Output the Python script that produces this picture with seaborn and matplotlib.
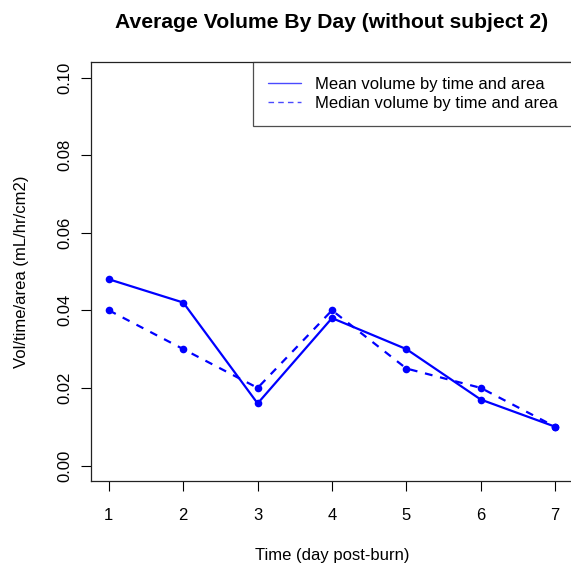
import matplotlib
matplotlib.use("Agg")
import matplotlib.pyplot as plt
from matplotlib.lines import Line2D
import seaborn as sns
import pandas as pd

days = [1, 2, 3, 4, 5, 6, 7]
mean_volume = [0.048, 0.042, 0.016, 0.038, 0.030, 0.017, 0.010]
median_volume = [0.040, 0.030, 0.020, 0.040, 0.025, 0.020, 0.010]
y_ticks = [0.00, 0.02, 0.04, 0.06, 0.08, 0.10]
y_tick_labels = ["0.00", "0.02", "0.04", "0.06", "0.08", "0.10"]
legend_labels = ["Mean volume by time and area", "Median volume by time and area"]

sns.set_style("white")
plt.rcParams["font.family"] = ["Liberation Sans", "DejaVu Sans"]
plt.rcParams["text.color"] = "black"
plt.rcParams["axes.labelcolor"] = "black"
plt.rcParams["xtick.color"] = "black"
plt.rcParams["ytick.color"] = "black"

df = pd.DataFrame({"day": days, "mean": mean_volume, "median": median_volume})

fig = plt.figure(figsize=(5.71, 5.70), dpi=100)
ax = fig.add_axes([0.1594, 0.1561, 0.8441, 0.7351])

sns.lineplot(data=df, x="day", y="mean", ax=ax, color="#0000ff", lw=1.6,
             marker="o", markersize=5.5, markeredgewidth=0)
sns.lineplot(data=df, x="day", y="median", ax=ax, color="#0000ff", lw=1.6,
             marker="o", markersize=5.5, markeredgewidth=0,
             linestyle=(0, (3.5, 3.5)))

ax.set_xlim(0.76, 7.24)
ax.set_ylim(-0.004, 0.104)
ax.set_xticks(days)
ax.set_xticklabels([str(d) for d in days], fontsize=12)
ax.set_yticks(y_ticks)
ax.set_yticklabels(y_tick_labels, fontsize=12, rotation=90, va="center")
ax.tick_params(axis="both", direction="out", length=7.2, width=0.8,
               color="black", bottom=True, left=True)
ax.tick_params(axis="x", pad=12)
ax.tick_params(axis="y", pad=6)

for s in ax.spines.values():
    s.set_color("#222222")
    s.set_linewidth(0.9)

ax.set_xlabel("Time (day post-burn)", fontsize=12, labelpad=18)
ax.set_ylabel("Vol/time/area (mL/hr/cm2)", fontsize=12, labelpad=21)
fig.text(0.581, 0.960, "Average Volume By Day (without subject 2)",
         ha="center", va="center", fontsize=15.2, fontweight="bold")

handles = [
    Line2D([0], [0], color="#4a4aff", lw=1.0),
    Line2D([0], [0], color="#4a4aff", lw=1.0, linestyle=(0, (4, 3))),
]
leg = ax.legend(handles, legend_labels,
                loc="upper right", bbox_to_anchor=(1.0, 1.0),
                frameon=True, fancybox=False, fontsize=12,
                handlelength=2.0, handletextpad=0.85, borderpad=0.9,
                labelspacing=0.25, borderaxespad=0.0)
leg.get_frame().set_edgecolor("#222222")
leg.get_frame().set_linewidth(0.9)

fig.savefig("out.png", dpi=100)
